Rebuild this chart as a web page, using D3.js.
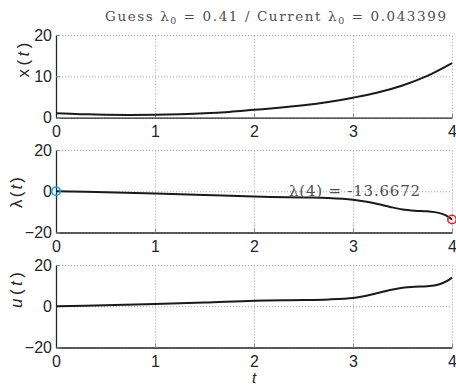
<!DOCTYPE html>
<html>
<head>
<meta charset="utf-8">
<script src="https://cdn.jsdelivr.net/npm/d3@7"></script>
<style>
  html, body { margin: 0; padding: 0; background: #fff; }
  svg { display: block; }
</style>
</head>
<body>
<svg id="chart" width="456" height="385"></svg>
<script>
// ---- data ----
const xTicks = [0, 1, 2, 3, 4];
const yTicksX = [0, 10, 20];
const yTicksLU = [-20, 0, 20];

const tX = [0, 0.25, 0.5, 0.75, 1, 1.25, 1.5, 1.75, 2, 2.25, 2.5, 2.75, 3, 3.25, 3.5, 3.75, 4];
const xVals = [1.05, 0.85, 0.72, 0.68, 0.74, 0.85, 1.05, 1.4, 1.9, 2.4, 3.0, 3.8, 4.85, 6.1, 7.8, 10.1, 13.2];

const tL = [0, 0.5, 1, 1.5, 2, 2.5, 2.75, 3, 3.125, 3.25, 3.375, 3.5, 3.625, 3.75, 3.875, 3.9375, 4];
const lambdaVals = [0.043399, -0.5, -1.1, -1.8, -2.6, -3.0, -3.3, -4.1, -5.0, -6.2, -7.6, -8.8, -9.4, -9.7, -10.6, -11.7, -13.6672];
const uVals = [0, 0.5, 1.1, 1.8, 2.7, 3.0, 3.3, 4.0, 5.0, 6.4, 7.9, 9.0, 9.5, 9.7, 10.7, 11.9, 13.9];

const titleGuess = "0.41";
const titleCurrent = "0.043399";
const lambdaEnd = -13.6672;

// ---- layout ----
const svg = d3.select("#chart");
const left = 56, right = 452;
const panels = [
  { top: 35, bottom: 117.7, domain: [0, 20], ticks: yTicksX, t: tX, v: xVals, label: "x", labelItalic: false, labelX: 29, labelY: 60, labelLen: 35 },
  { top: 150, bottom: 232.5, domain: [-20, 20], ticks: yTicksLU, t: tL, v: lambdaVals, label: "λ", labelItalic: false, labelX: 22, labelY: 192.5, labelLen: 31 },
  { top: 265, bottom: 347.5, domain: [-20, 20], ticks: yTicksLU, t: tL, v: uVals, label: "u", labelItalic: true, labelX: 22, labelY: 290, labelLen: 36 }
];

const x = d3.scaleLinear().domain([0, 4]).range([left, right]);
const axisColor = "#262626";
const sans = "'Liberation Sans', Arial, Helvetica, sans-serif";
const serif = "'DejaVu Serif', 'Liberation Serif', serif";

panels.forEach((p, i) => {
  const y = d3.scaleLinear().domain(p.domain).range([p.bottom, p.top]);
  const h = p.bottom - p.top;
  const g = svg.append("g");

  // grid
  const gx = g.append("g").attr("transform", `translate(0,${p.bottom})`)
    .call(d3.axisBottom(x).tickValues(xTicks).tickSize(-h).tickFormat(""));
  gx.select(".domain").remove();
  gx.selectAll("line").attr("stroke", "#a0a0a0").attr("stroke-width", 1).attr("stroke-dasharray", "1,2");
  const gy = g.append("g").attr("transform", `translate(${left},0)`)
    .call(d3.axisLeft(y).tickValues(p.ticks).tickSize(-(right - left)).tickFormat(""));
  gy.select(".domain").remove();
  gy.selectAll("line").attr("stroke", "#a0a0a0").attr("stroke-width", 1).attr("stroke-dasharray", "1,2");

  // axes
  const ax = g.append("g").attr("transform", `translate(0,${p.bottom})`)
    .call(d3.axisBottom(x).tickValues(xTicks).tickSize(-4).tickSizeOuter(0).tickPadding(8).tickFormat(d3.format("d")));
  ax.select(".domain").attr("stroke", axisColor).attr("stroke-width", 1.3);
  ax.selectAll("line").attr("stroke", "#888").attr("stroke-width", 1);
  ax.selectAll("text").attr("font-family", sans).attr("font-size", 16).attr("fill", axisColor);

  const ay = g.append("g").attr("transform", `translate(${left},0)`)
    .call(d3.axisLeft(y).tickValues(p.ticks).tickSize(-4).tickSizeOuter(0).tickPadding(4).tickFormat(d3.format("d")));
  ay.select(".domain").attr("stroke", axisColor).attr("stroke-width", 1.3);
  ay.selectAll("line").attr("stroke", "#888").attr("stroke-width", 1);
  ay.selectAll("text").attr("font-family", sans).attr("font-size", 16).attr("fill", axisColor);

  // curve
  const line = d3.line().x((d, k) => x(p.t[k])).y(d => y(d)).curve(d3.curveCatmullRom.alpha(0.5));
  g.append("path").datum(p.v).attr("d", line)
    .attr("fill", "none").attr("stroke", "#1a1a1a").attr("stroke-width", 2);

  // y label
  const lt = g.append("text")
    .attr("transform", `translate(${p.labelX},${p.labelY}) rotate(-90)`)
    .attr("text-anchor", "middle")
    .attr("font-family", sans).attr("font-size", 17).attr("fill", axisColor)
    .attr("textLength", p.labelLen).attr("lengthAdjust", "spacing");
  lt.append("tspan").attr("font-style", p.labelItalic ? "italic" : "normal").text(p.label);
  lt.append("tspan").text("(");
  lt.append("tspan").attr("font-style", "italic").text("t");
  lt.append("tspan").text(")");

  p.y = y;
});

// markers on lambda panel
const pl = panels[1];
svg.append("circle").attr("cx", x(tL[0])).attr("cy", pl.y(lambdaVals[0])).attr("r", 4.2)
  .attr("fill", "none").attr("stroke", "#1aa3e8").attr("stroke-width", 1.6);
svg.append("circle").attr("cx", x(tL[tL.length - 1])).attr("cy", pl.y(lambdaVals[lambdaVals.length - 1])).attr("r", 4.2)
  .attr("fill", "none").attr("stroke", "#e8202a").attr("stroke-width", 1.6);

// annotation
svg.append("text").attr("x", 289).attr("y", 195.5)
  .attr("font-family", serif).attr("font-size", 15).attr("fill", "#505050")
  .attr("textLength", 131).attr("lengthAdjust", "spacing")
  .text(`λ(4) = ${lambdaEnd}`);

// title
const tt = svg.append("text").attr("x", 105).attr("y", 21)
  .attr("font-family", serif).attr("font-size", 13.5).attr("fill", "#505050")
  .attr("textLength", 341).attr("lengthAdjust", "spacing");
tt.append("tspan").text("Guess λ");
tt.append("tspan").attr("font-size", 9.5).attr("dy", 3).text("0");
tt.append("tspan").attr("dy", -3).text(` = ${titleGuess} / Current λ`);
tt.append("tspan").attr("font-size", 9.5).attr("dy", 3).text("0");
tt.append("tspan").attr("dy", -3).text(` = ${titleCurrent}`);

// x label
svg.append("text").attr("x", x(2)).attr("y", 382.5)
  .attr("text-anchor", "middle")
  .attr("font-family", sans).attr("font-size", 15).attr("font-style", "italic").attr("fill", axisColor)
  .text("t");
</script>
</body>
</html>
